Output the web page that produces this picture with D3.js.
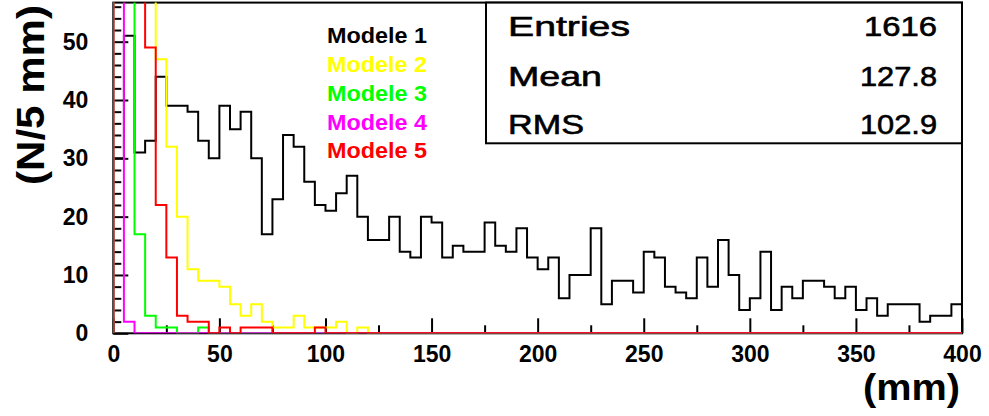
<!DOCTYPE html>
<html>
<head>
<meta charset="utf-8">
<script src="https://cdn.jsdelivr.net/npm/d3@7"></script>
<style>
  body { margin: 0; background: #fff; }
  svg { display: block; }
  text { font-family: "Liberation Sans", Arial, sans-serif; }
</style>
</head>
<body>
<svg id="chart" width="989" height="416"></svg>
<script>
// Histogram binning: 80 bins of 5 mm over 0..400 mm
const xMin = 0, xMax = 400, binWidth = 5;
const yMax = 56.7;

const xMajorTicks = [0, 50, 100, 150, 200, 250, 300, 350, 400];
const yMajorTicks = [0, 10, 20, 30, 40, 50];

// Counts per 5 mm bin, one array per model
const modele1 = [
  30, 51, 31, 33, 44, 39, 39, 38, 33, 30,
  39, 35, 38, 30, 17, 23, 34, 32, 26, 22,
  21, 24, 27, 20, 16, 16, 20, 14, 13, 20,
  19, 13, 15, 14, 14, 19, 15, 14, 18, 13,
  11, 13, 6, 10, 10, 18, 5, 9, 9, 7,
  14, 13, 8, 7, 6, 13, 8, 16, 10, 4,
  6, 14, 4, 8, 6, 9, 9, 8, 6, 8,
  4, 6, 3, 5, 5, 5, 2, 3, 3, 5
];
const modele2 = [
  60, 65, 90, 85, 47, 32, 20, 11, 9, 9,
  8, 5, 3, 5, 2, 1, 1, 3, 1, 1,
  1, 2, 0, 1, 0, 0, 0, 0, 0, 0,
  0, 0, 0, 0, 0, 0, 0, 0, 0, 0,
  0, 0, 0, 0, 0, 0, 0, 0, 0, 0,
  0, 0, 0, 0, 0, 0, 0, 0, 0, 0,
  0, 0, 0, 0, 0, 0, 0, 0, 0, 0,
  0, 0, 0, 0, 0, 0, 0, 0, 0, 0
];
const modele3 = [
  80, 150, 17, 3, 1, 1, 0, 0, 1, 0,
  0, 0, 0, 0, 0, 0, 0, 0, 0, 0,
  0, 0, 0, 0, 0, 0, 0, 0, 0, 0,
  0, 0, 0, 0, 0, 0, 0, 0, 0, 0,
  0, 0, 0, 0, 0, 0, 0, 0, 0, 0,
  0, 0, 0, 0, 0, 0, 0, 0, 0, 0,
  0, 0, 0, 0, 0, 0, 0, 0, 0, 0,
  0, 0, 0, 0, 0, 0, 0, 0, 0, 0
];
const modele4 = [
  200, 2, 0, 0, 0, 0, 0, 0, 0, 0,
  0, 0, 0, 0, 0, 0, 0, 0, 0, 0,
  0, 0, 0, 0, 0, 0, 0, 0, 0, 0,
  0, 0, 0, 0, 0, 0, 0, 0, 0, 0,
  0, 0, 0, 0, 0, 0, 0, 0, 0, 0,
  0, 0, 0, 0, 0, 0, 0, 0, 0, 0,
  0, 0, 0, 0, 0, 0, 0, 0, 0, 0,
  0, 0, 0, 0, 0, 0, 0, 0, 0, 0
];
const modele5 = [
  75, 130, 105, 49, 22, 13, 3, 2, 2, 0,
  1, 0, 1, 1, 1, 0, 0, 0, 0, 1,
  0, 0, 0, 0, 0, 0, 0, 0, 0, 0,
  0, 0, 0, 0, 0, 0, 0, 0, 0, 0,
  0, 0, 0, 0, 0, 0, 0, 0, 0, 0,
  0, 0, 0, 0, 0, 0, 0, 0, 0, 0,
  0, 0, 0, 0, 0, 0, 0, 0, 0, 0,
  0, 0, 0, 0, 0, 0, 0, 0, 0, 0
];

const seriesNames = ["Modele 1", "Modele 2", "Modele 3", "Modele 4", "Modele 5"];
const seriesValues = [modele1, modele2, modele3, modele4, modele5];
const seriesColors = ["#000000", "#ffff00", "#00ff00", "#ff00ff", "#ff0000"];

const statLabels = ["Entries", "Mean", "RMS"];
const statValues = ["1616", "127.8", "102.9"];

const xTitle = "(mm)";
const yTitle = "(N/5 mm)";

// ---- layout ----
const svg = d3.select("#chart");
const plotLeft = 113.3, plotRight = 962, plotTop = 2.6, plotBottom = 333.3;

const x = d3.scaleLinear().domain([xMin, xMax]).range([plotLeft, plotRight]);
const y = d3.scaleLinear().domain([0, yMax]).range([plotBottom, plotTop]);

svg.append("defs").append("clipPath").attr("id", "plotClip")
  .append("rect")
  .attr("x", plotLeft).attr("y", plotTop)
  .attr("width", plotRight - plotLeft).attr("height", plotBottom - plotTop);

// frame
svg.append("rect")
  .attr("x", plotLeft).attr("y", plotTop)
  .attr("width", plotRight - plotLeft).attr("height", plotBottom - plotTop)
  .attr("fill", "none").attr("stroke", "#000").attr("stroke-width", 2);

// x axis: major ticks with labels, minor ticks every 25 mm, ticks pointing inward
const xMinorTicks = d3.range(xMin, xMax + 1, 25).filter(v => !xMajorTicks.includes(v));
const xAxis = svg.append("g").attr("transform", `translate(0,${plotBottom})`)
  .call(d3.axisBottom(x).tickValues(xMajorTicks).tickSizeInner(-15).tickSizeOuter(0)
    .tickPadding(12).tickFormat(d3.format("d")));
xAxis.select(".domain").remove();
xAxis.selectAll(".tick line").attr("stroke", "#000").attr("stroke-width", 2);
xAxis.selectAll(".tick text")
  .attr("font-size", 23).attr("font-weight", "bold").attr("fill", "#000")
  .attr("font-family", "Liberation Sans, Arial, sans-serif");

const xMinor = svg.append("g").attr("transform", `translate(0,${plotBottom})`)
  .call(d3.axisBottom(x).tickValues(xMinorTicks).tickSizeInner(-8).tickSizeOuter(0).tickFormat(""));
xMinor.select(".domain").remove();
xMinor.selectAll(".tick line").attr("stroke", "#000").attr("stroke-width", 2);

// y axis: major every 10, minor every 2
const yMinorTicks = d3.range(0, yMax, 2).filter(v => !yMajorTicks.includes(v));
const yAxis = svg.append("g").attr("transform", `translate(${plotLeft},0)`)
  .call(d3.axisLeft(y).tickValues(yMajorTicks).tickSizeInner(-15).tickSizeOuter(0)
    .tickPadding(25).tickFormat(d3.format("d")));
yAxis.select(".domain").remove();
yAxis.selectAll(".tick line").attr("stroke", "#000").attr("stroke-width", 2);
yAxis.selectAll(".tick text")
  .attr("font-size", 23).attr("font-weight", "bold").attr("fill", "#000")
  .attr("font-family", "Liberation Sans, Arial, sans-serif");

const yMinor = svg.append("g").attr("transform", `translate(${plotLeft},0)`)
  .call(d3.axisLeft(y).tickValues(yMinorTicks).tickSizeInner(-8).tickSizeOuter(0).tickFormat(""));
yMinor.select(".domain").remove();
yMinor.selectAll(".tick line").attr("stroke", "#000").attr("stroke-width", 2);

// histogram outlines (step paths), drawn in series order
function stepPoints(values) {
  const pts = [[xMin, 0]];
  values.forEach((v, i) => {
    const x0 = xMin + i * binWidth;
    pts.push([x0, v], [x0 + binWidth, v]);
  });
  pts.push([xMax, 0]);
  return pts;
}
const line = d3.line().x(d => x(d[0])).y(d => y(d[1]));

const histG = svg.append("g").attr("clip-path", "url(#plotClip)");
histG.selectAll("path.hist")
  .data(seriesValues)
  .join("path")
  .attr("class", "hist")
  .attr("d", d => line(stepPoints(d)))
  .attr("fill", "none")
  .attr("stroke", (d, i) => seriesColors[i])
  .attr("stroke-width", 2)
  .attr("stroke-linejoin", "miter");

// legend text
const legendBaselines = [42.7, 71.7, 100.5, 129.5, 158.3];
svg.append("g").selectAll("text")
  .data(seriesNames)
  .join("text")
  .attr("x", 327)
  .attr("y", (d, i) => legendBaselines[i])
  .attr("font-size", 22).attr("font-weight", "bold")
  .attr("textLength", 100).attr("lengthAdjust", "spacingAndGlyphs")
  .attr("fill", (d, i) => seriesColors[i])
  .text(d => d);

// statistics box
svg.append("rect")
  .attr("x", 486).attr("y", plotTop)
  .attr("width", plotRight - 486).attr("height", 143.3 - plotTop)
  .attr("fill", "#fff").attr("stroke", "#000").attr("stroke-width", 2);

const statBaselines = [36, 86, 134];
const statLabelWidths = [122, 94, 76];
const statValueWidths = [73, 77, 77];
const statG = svg.append("g");
statG.selectAll("text.lab")
  .data(statLabels)
  .join("text").attr("class", "lab")
  .attr("x", 508).attr("y", (d, i) => statBaselines[i])
  .attr("font-size", 28)
  .attr("textLength", (d, i) => statLabelWidths[i]).attr("lengthAdjust", "spacingAndGlyphs")
  .attr("fill", "#000").attr("stroke", "#000").attr("stroke-width", 0.6)
  .text(d => d);
statG.selectAll("text.val")
  .data(statValues)
  .join("text").attr("class", "val")
  .attr("x", (d, i) => 937 - statValueWidths[i]).attr("y", (d, i) => statBaselines[i])
  .attr("font-size", 28)
  .attr("textLength", (d, i) => statValueWidths[i]).attr("lengthAdjust", "spacingAndGlyphs")
  .attr("fill", "#000").attr("stroke", "#000").attr("stroke-width", 0.6)
  .text(d => d);

// axis titles
svg.append("text")
  .attr("x", 960).attr("y", 400)
  .attr("text-anchor", "end")
  .attr("font-size", 36).attr("font-weight", "bold")
  .attr("textLength", 97).attr("lengthAdjust", "spacingAndGlyphs")
  .attr("fill", "#000")
  .text(xTitle);

svg.append("text")
  .attr("transform", "translate(44,185) rotate(-90)")
  .attr("x", 0).attr("y", 0)
  .attr("font-size", 38).attr("font-weight", "bold")
  .attr("textLength", 180).attr("lengthAdjust", "spacingAndGlyphs")
  .attr("fill", "#000")
  .text(yTitle);
</script>
</body>
</html>
